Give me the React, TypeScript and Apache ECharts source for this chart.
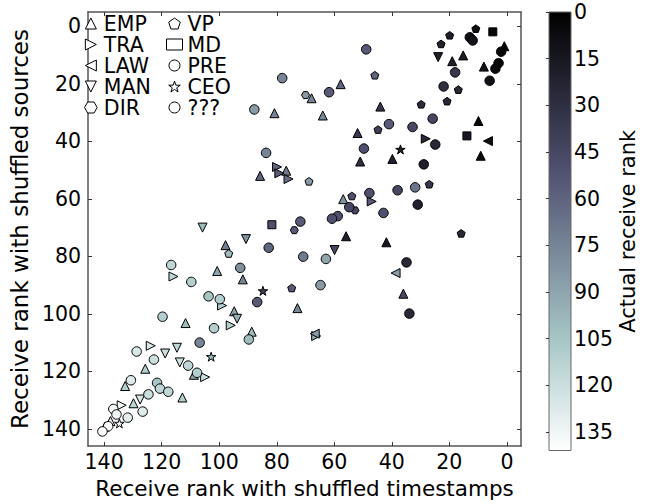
import React, { useEffect, useRef } from 'react';
import * as echarts from 'echarts';

// [shuffled-timestamp rank, shuffled-source rank, actual receive rank]
const EMP = [
  [0.9, 6.9, 3], [15.2, 10.1, 18], [19.0, 12.1, 20], [8.0, 14.0, 10], [9.9, 32.9, 5],
  [9.1, 45.0, 5], [51.0, 47.0, 30], [39.8, 46.1, 20], [67.9, 25.0, 75], [57.8, 20.1, 60],
  [64.0, 31.0, 75], [44.0, 27.9, 35], [51.9, 37.1, 35], [80.8, 30.2, 75], [76.7, 50.2, 70],
  [85.8, 52.0, 60], [97.8, 76.1, 72], [100.7, 85.1, 90], [91.8, 88.0, 75], [94.8, 99.1, 90],
  [72.8, 98.0, 75], [111.7, 103.2, 100], [88.7, 106.2, 100], [125.7, 119.1, 110], [108.8, 121.2, 90],
  [132.7, 125.1, 110], [112.8, 129.1, 110], [129.8, 131.1, 115], [137.8, 137.3, 130], [139.7, 139.2, 139],
  [56.9, 60.1, 80], [55.9, 73.0, 20], [41.9, 75.1, 15], [36.0, 93.0, 45],
];
const TRA = [
  [28.2, 39.1, 25], [79.9, 48.9, 60], [79.1, 51.1, 55], [75.9, 53.1, 65], [115.9, 87.0, 115],
  [99.0, 97.1, 110], [96.0, 104.0, 110], [66.3, 107.7, 95], [123.8, 111.1, 125], [104.9, 122.0, 120],
  [133.9, 131.8, 135], [47.0, 60.9, 55],
];
const LAW = [[6.6, 39.9, 8], [66.8, 106.9, 85], [38.7, 85.8, 85]];
const MAN = [
  [23.9, 10.7, 20], [105.8, 70.0, 100], [90.7, 74.0, 80], [93.8, 101.7, 95], [118.8, 113.8, 120],
  [114.7, 111.8, 115], [113.7, 116.9, 120], [127.5, 129.8, 125], [59.9, 77.8, 45],
];
const DIR = [[70.0, 23.9, 85], [73.9, 70.9, 55], [52.8, 64.0, 45]];
const VP = [
  [10.8, 0.8, 8], [19.9, 3.1, 20], [22.9, 6.1, 22], [16.9, 22.0, 25], [29.8, 27.1, 28],
  [20.8, 26.0, 25], [45.9, 17.0, 60], [44.8, 35.9, 40], [68.8, 53.9, 85], [96.7, 79.0, 100],
  [74.8, 91.0, 55], [53.9, 59.0, 50], [27.0, 54.9, 35], [15.9, 72.0, 25],
];
const MD = [[4.9, 1.9, 3], [13.9, 38.1, 15], [81.7, 69.0, 50]];
const PRE: number[][] = [];
const CEO = [[37.0, 42.8, 20], [84.8, 92.0, 40], [102.8, 114.9, 100], [134.7, 138.1, 135]];
const UNK = [
  [12.9, 3.8, 10], [11.9, 4.9, 12], [2.0, 8.8, 3], [2.9, 12.8, 4], [4.0, 14.7, 6],
  [18.0, 16.0, 35], [6.0, 18.9, 10], [22.0, 20.9, 30], [25.8, 32.1, 45], [32.8, 35.0, 45],
  [24.9, 41.1, 25], [28.9, 48.0, 20], [49.7, 42.5, 50], [48.9, 8.0, 55], [78.1, 18.0, 75],
  [61.8, 22.9, 55], [41.0, 34.0, 55], [87.8, 28.9, 85], [83.7, 44.0, 75], [71.8, 67.9, 55],
  [82.8, 77.0, 60], [70.8, 80.1, 70], [116.7, 83.0, 115], [109.7, 88.9, 110], [92.7, 84.0, 80],
  [64.8, 90.0, 85], [103.7, 93.9, 105], [99.8, 94.9, 110], [86.8, 95.9, 55], [119.7, 101.0, 110],
  [101.8, 105.0, 110], [89.7, 108.9, 100], [106.8, 110.0, 75], [128.7, 113.1, 125], [122.7, 115.9, 120],
  [110.8, 118.0, 115], [107.7, 120.5, 110], [130.7, 123.1, 128], [121.6, 124.0, 105], [120.6, 126.0, 115],
  [117.7, 127.1, 115], [124.6, 128.0, 120], [136.8, 133.1, 135], [135.7, 135.0, 135], [126.6, 134.0, 128],
  [131.8, 136.1, 130], [138.6, 139.1, 140], [140.6, 140.9, 141], [47.8, 58.0, 50], [38.0, 57.0, 45],
  [31.9, 56.0, 68], [31.0, 62.0, 20], [54.8, 62.9, 45], [58.8, 66.0, 50], [60.8, 66.9, 50],
  [42.9, 64.9, 50], [62.9, 80.9, 90], [34.9, 82.1, 25], [33.9, 99.9, 25],
];

const X_TICKS = [0, 20, 40, 60, 80, 100, 120, 140];
const Y_TICKS = [0, 20, 40, 60, 80, 100, 120, 140];
const CB_TICKS = [0, 15, 30, 45, 60, 75, 90, 105, 120, 135];
const CB_MAX = 141;

const STAR =
  'path://M0,-1L0.2245,-0.309L0.9511,-0.309L0.3633,0.118L0.5878,0.809L0,0.382L-0.5878,0.809L-0.3633,0.118L-0.9511,-0.309L-0.2245,-0.309Z';
const CATS: { name: string; data: number[][]; symbol: string; size: number }[] = [
  { name: 'EMP', data: EMP, symbol: 'path://M1,0L2,2L0,2Z', size: 9 },
  { name: 'TRA', data: TRA, symbol: 'path://M0,0L2,1L0,2Z', size: 9 },
  { name: 'LAW', data: LAW, symbol: 'path://M2,0L0,1L2,2Z', size: 9 },
  { name: 'MAN', data: MAN, symbol: 'path://M0,0L2,0L1,2Z', size: 9 },
  { name: 'DIR', data: DIR, symbol: 'path://M1,0L0.5,0.866L-0.5,0.866L-1,0L-0.5,-0.866L0.5,-0.866Z', size: 8 },
  { name: 'VP', data: VP, symbol: 'path://M0,-1L-0.9511,-0.309L-0.5878,0.809L0.5878,0.809L0.9511,-0.309Z', size: 8 },
  { name: 'MD', data: MD, symbol: 'rect', size: 8 },
  { name: 'PRE', data: PRE, symbol: 'circle', size: 8.5 },
  { name: 'CEO', data: CEO, symbol: STAR, size: 9.5 },
  { name: '???', data: UNK, symbol: 'circle', size: 9.5 },
];

function lerp(pts: number[][], t: number) {
  for (let i = 1; i < pts.length; i++) {
    if (t <= pts[i][0]) {
      const [x0, y0] = pts[i - 1];
      const [x1, y1] = pts[i];
      return y0 + ((t - x0) / (x1 - x0)) * (y1 - y0);
    }
  }
  return pts[pts.length - 1][1];
}
// matplotlib "bone" colormap
function bone(t: number) {
  t = Math.max(0, Math.min(1, t));
  const r = lerp([[0, 0], [0.746032, 0.652778], [1, 1]], t);
  const g = lerp([[0, 0], [0.365079, 0.319444], [0.746032, 0.777778], [1, 1]], t);
  const b = lerp([[0, 0], [0.365079, 0.444444], [1, 1]], t);
  return `rgb(${Math.round(r * 255)},${Math.round(g * 255)},${Math.round(b * 255)})`;
}

const FONT = 'DejaVu Sans';
const FS = 20.5;

export default function App() {
  const ref = useRef<HTMLDivElement>(null);
  useEffect(() => {
    document.body.style.margin = '0';
    const chart = echarts.init(ref.current!, undefined, { renderer: 'svg' });
    const spine = { show: true, onZero: false, lineStyle: { color: '#555', width: 1.5 } };
    const tick = (vals: number[]) => ({ show: true, inside: true, length: 4, customValues: vals, lineStyle: { color: '#333', width: 1 } });
    const legendItems = (names: string[]) =>
      names.map((n) => {
        const c = CATS.find((k) => k.name === n)!;
        return { name: n, icon: c.symbol, itemStyle: { color: '#fff', borderColor: '#000', borderWidth: 1 } };
      });
    const legendCommon = {
      orient: 'vertical',
      top: 13,
      itemWidth: 16,
      itemHeight: 11,
      itemGap: 0,
      selectedMode: false,
      padding: 0,
      itemStyle: { color: '#fff', borderColor: '#000', borderWidth: 1 },
      textStyle: { fontFamily: FONT, fontSize: FS, color: '#000', lineHeight: 20.8 },
    };
    const stops = [0, 0.365079, 0.746032, 1].map((o) => ({ offset: o, color: bone(o) }));
    chart.setOption({
      animation: false,
      backgroundColor: '#fff',
      textStyle: { fontFamily: FONT },
      grid: [
        { left: 80, top: 12, width: 441, height: 438.5, show: true, backgroundColor: '#fff', borderWidth: 0 },
        {
          left: 549, top: 12, width: 22, height: 438.5, show: true,
          backgroundColor: new echarts.graphic.LinearGradient(0, 0, 0, 1, stops),
          borderColor: '#666', borderWidth: 1,
        },
      ],
      legend: [
        { ...legendCommon, left: 84, data: legendItems(['EMP', 'TRA', 'LAW', 'MAN', 'DIR']) },
        { ...legendCommon, left: 166, data: legendItems(['VP', 'MD', 'PRE', 'CEO', '???']) },
      ],
      xAxis: [
        {
          gridIndex: 0, type: 'value', position: 'bottom', inverse: true, min: -4.9, max: 145.6,
          axisLine: spine, axisTick: tick(X_TICKS), splitLine: { show: false },
          axisLabel: { customValues: X_TICKS, fontSize: FS, color: '#000', fontFamily: FONT, margin: 5 },
          name: 'Receive rank with shuffled timestamps', nameLocation: 'middle', nameGap: 25,
          nameTextStyle: { fontSize: 21.5, color: '#000', fontFamily: FONT },
        },
        {
          gridIndex: 0, type: 'value', position: 'top', inverse: true, min: -4.9, max: 145.6,
          axisLine: spine, axisTick: tick(X_TICKS), axisLabel: { show: false }, splitLine: { show: false },
        },
        { gridIndex: 1, type: 'value', min: 0, max: 1, show: false },
      ],
      yAxis: [
        {
          gridIndex: 0, type: 'value', position: 'left', inverse: true, min: -5, max: 146,
          axisLine: spine, axisTick: tick(Y_TICKS), splitLine: { show: false },
          axisLabel: { customValues: Y_TICKS, fontSize: FS, color: '#000', fontFamily: FONT, margin: 7 },
          name: 'Receive rank with shuffled sources', nameLocation: 'middle', nameGap: 51, nameRotate: 90,
          nameTextStyle: { fontSize: 23, color: '#000', fontFamily: FONT },
        },
        {
          gridIndex: 0, type: 'value', position: 'right', inverse: true, min: -5, max: 146,
          axisLine: spine, axisTick: tick(Y_TICKS), axisLabel: { show: false }, splitLine: { show: false },
        },
        {
          gridIndex: 1, type: 'value', position: 'right', inverse: true, min: 0, max: CB_MAX,
          axisLine: { show: false }, splitLine: { show: false },
          axisTick: { show: true, inside: true, length: 3, customValues: CB_TICKS, lineStyle: { color: '#333' } },
          axisLabel: { customValues: CB_TICKS, fontSize: FS, color: '#000', fontFamily: FONT, margin: 3 },
          name: 'Actual receive rank', nameLocation: 'middle', nameGap: 40, nameRotate: 90,
          nameTextStyle: { fontSize: 21, color: '#000', fontFamily: FONT },
        },
      ],
      series: CATS.map((c) => ({
        type: 'scatter',
        name: c.name,
        xAxisIndex: 0,
        yAxisIndex: 0,
        data: c.data,
        symbol: c.symbol,
        symbolSize: c.size,
        symbolKeepAspect: true,
        z: 3,
        itemStyle: {
          color: (p: any) => bone(p.value[2] / CB_MAX),
          borderColor: '#000',
          borderWidth: 1,
          opacity: 1,
        },
      })),
    });
    return () => chart.dispose();
  }, []);
  return <div ref={ref} style={{ width: 654, height: 504 }} />;
}
